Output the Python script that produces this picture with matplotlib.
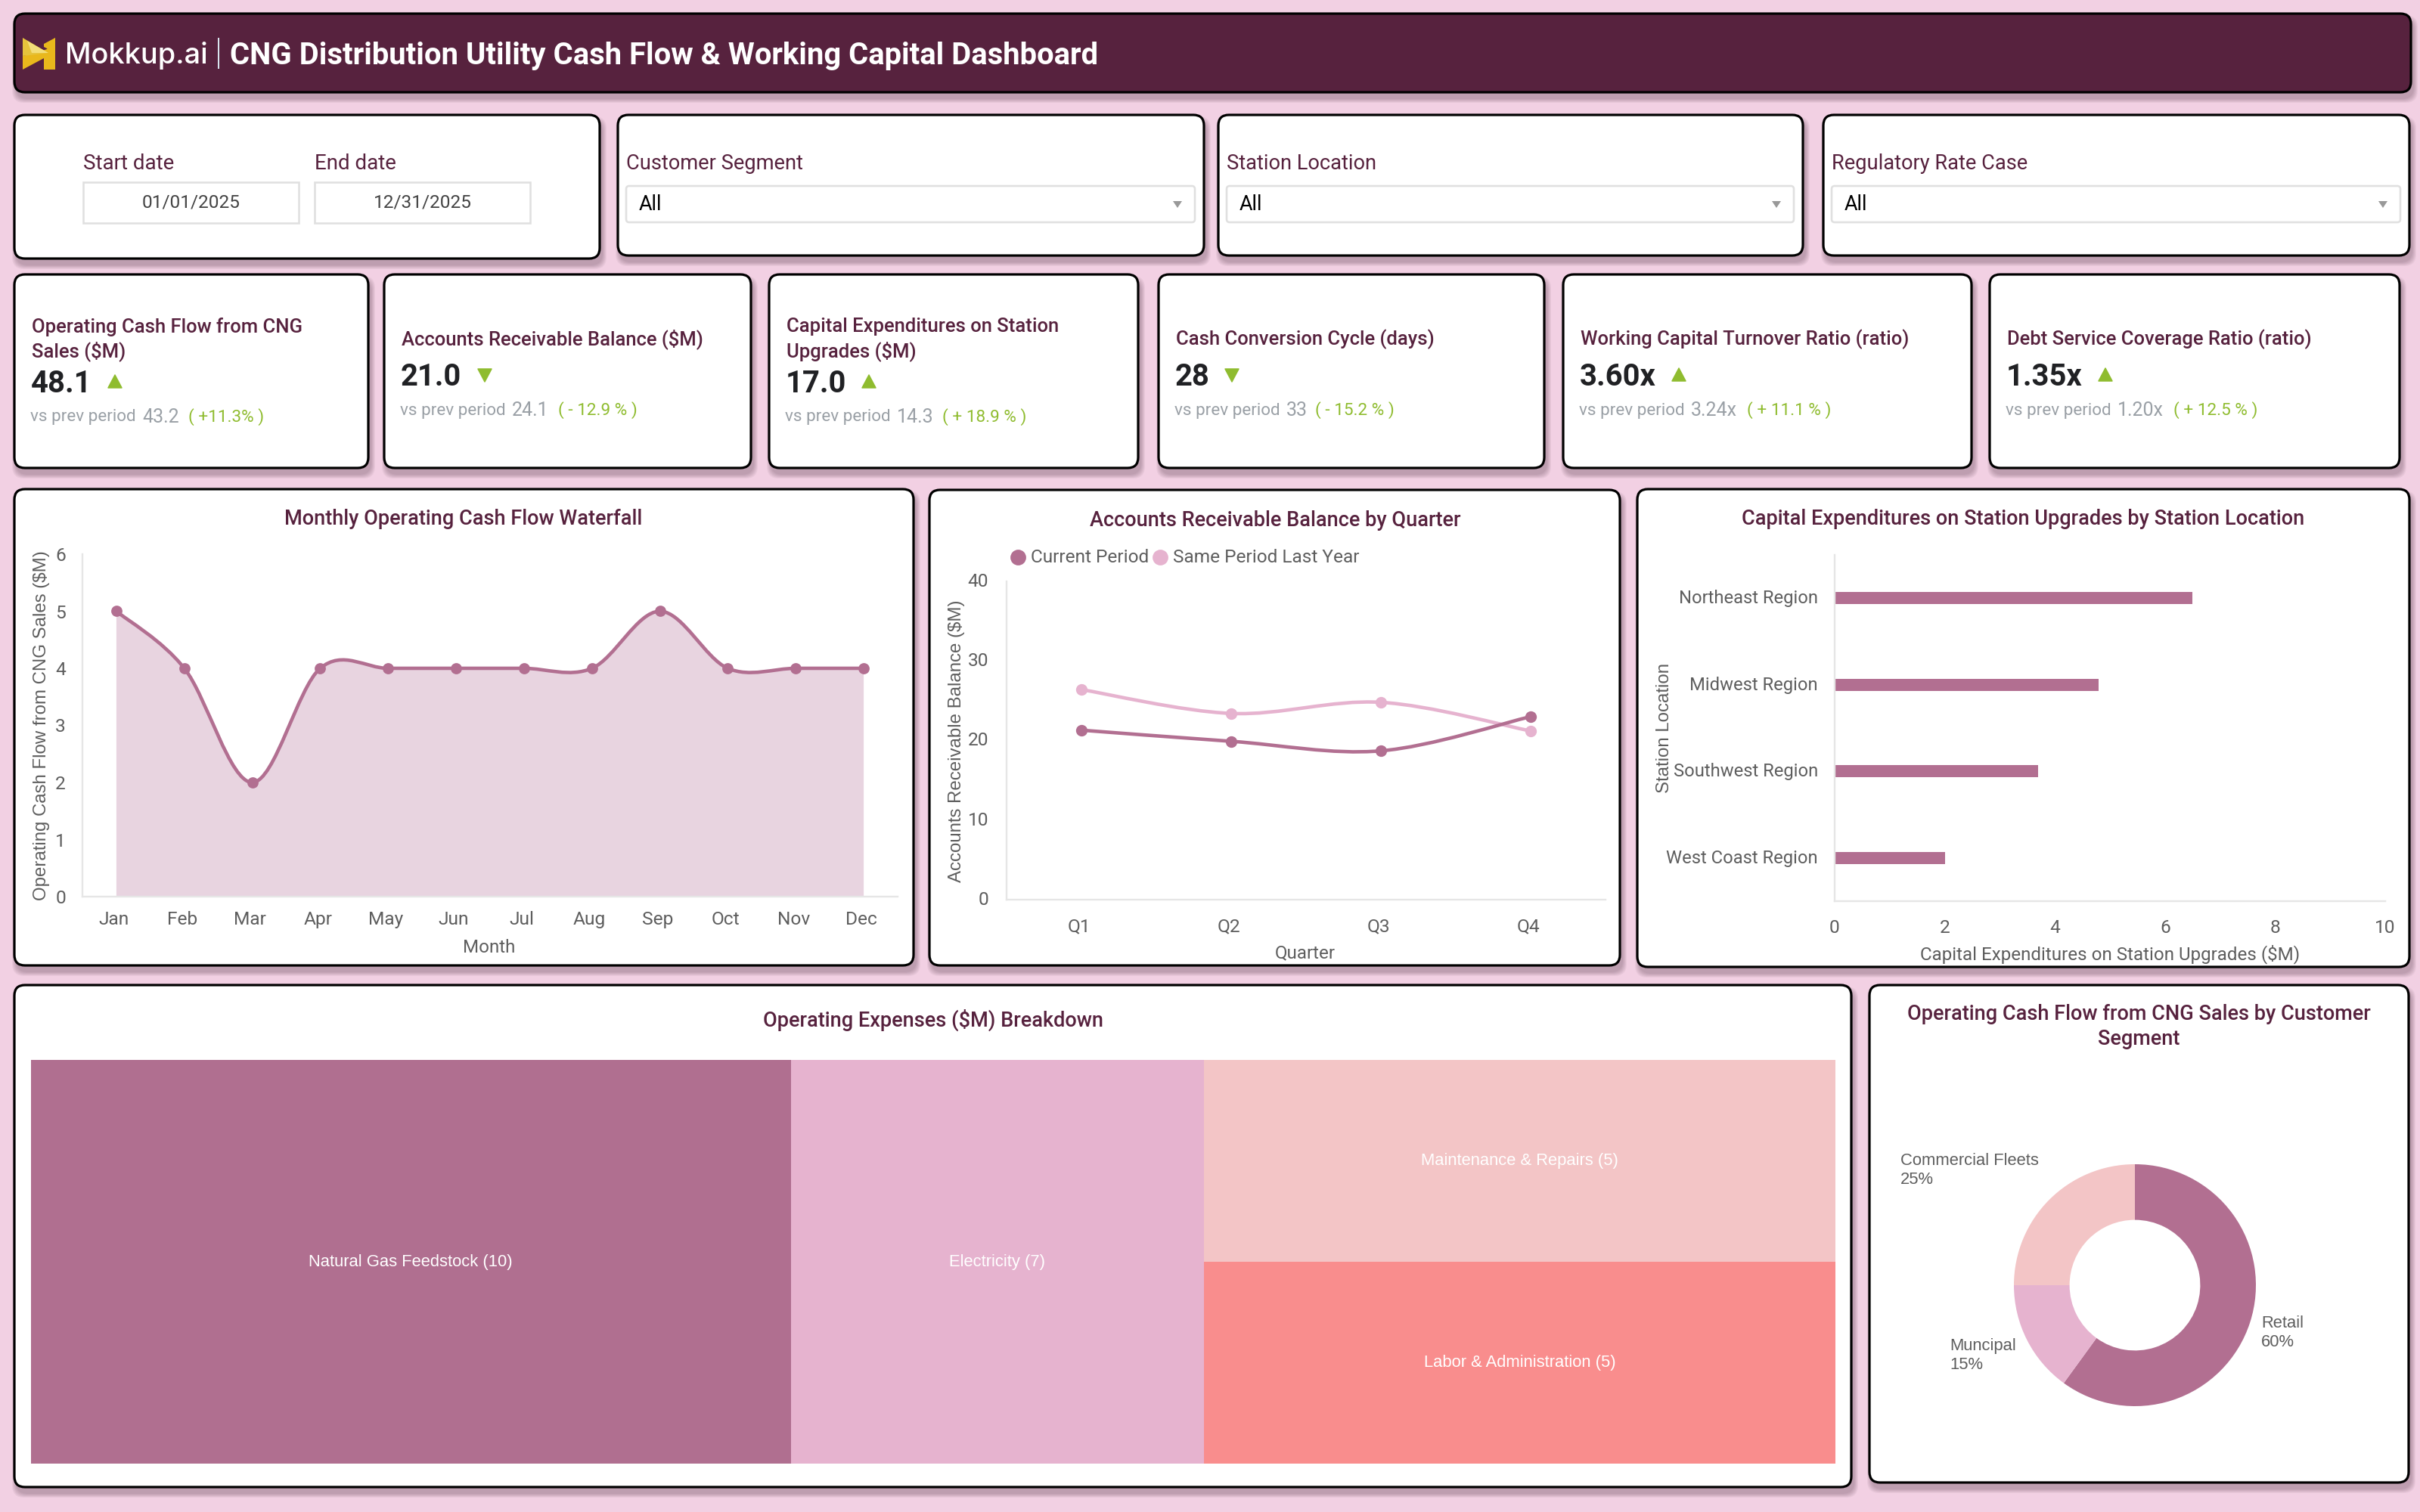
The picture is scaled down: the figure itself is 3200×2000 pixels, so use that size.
import numpy as np
import matplotlib
matplotlib.use("Agg")
import matplotlib.pyplot as plt
from matplotlib.patches import FancyBboxPatch, PathPatch, Polygon, Rectangle
from matplotlib.path import Path
from matplotlib.transforms import ScaledTranslation

# Data
months = ["Jan", "Feb", "Mar", "Apr", "May", "Jun", "Jul", "Aug", "Sep", "Oct", "Nov", "Dec"]
cash_flow = [5, 4, 2, 4, 4, 4, 4, 4, 5, 4, 4, 4]

quarters = ["Q1", "Q2", "Q3", "Q4"]
ar_current = [21.3, 19.9, 18.7, 23.0]
ar_last_year = [26.4, 23.4, 24.8, 21.2]

regions = ["Northeast Region", "Midwest Region", "Southwest Region", "West Coast Region"]
capex = [6.5, 4.8, 3.7, 2.0]

expense_names = ["Natural Gas Feedstock", "Electricity", "Maintenance & Repairs", "Labor & Administration"]
expense_labels = [10, 7, 5, 5]
expense_areas = [42.1, 22.9, 17.5, 17.5]

segments = ["Retail", "Muncipal", "Commercial Fleets"]
segment_share = [60, 15, 25]

kpi_titles = ["Operating Cash Flow from CNG\nSales ($M)", "Accounts Receivable Balance ($M)",
              "Capital Expenditures on Station\nUpgrades ($M)", "Cash Conversion Cycle (days)",
              "Working Capital Turnover Ratio (ratio)", "Debt Service Coverage Ratio (ratio)"]
kpi_values = ["48.1", "21.0", "17.0", "28", "3.60x", "1.35x"]
kpi_up = [True, False, True, False, True, True]
kpi_prev = ["43.2", "24.1", "14.3", "33", "3.24x", "1.20x"]
kpi_change = ["( +11.3% )", "( - 12.9 % )", "( + 18.9 % )", "( - 15.2 % )", "( + 11.1 % )", "( + 12.5 % )"]

# Colours
BG = "#F2D0E3"
HEADER = "#57223E"
TITLE = "#57223E"
MAUVE = "#B26F91"
LIGHT = "#E6B3CF"
PINK = "#F3C5C6"
CORAL = "#F98D8D"
FILL = "#E8D4E0"
GREY = "#5E5E5E"
AXIS = "#E6E6E6"
GREEN = "#8FBC2F"

PX = 0.36  # points per pixel at dpi 200
W, H = 3200, 2000

fig = plt.figure(figsize=(16, 10), dpi=200, facecolor=BG)
bg = fig.add_axes([0, 0, 1, 1], zorder=0)
bg.set_xlim(0, W)
bg.set_ylim(H, 0)
bg.axis("off")


def card(x0, y0, x1, y1, face="white"):
    # soft shadow below and right, then the card itself
    for i in range(6):
        grow = 2 + i * 2
        bg.add_patch(FancyBboxPatch((x0 + 3 - grow / 2, y0 + 8 - grow / 2), x1 - x0 + grow, y1 - y0 + grow,
                                    boxstyle="round,pad=0,rounding_size=16", fc="#3A2030", ec="none", alpha=0.05))
    bg.add_patch(FancyBboxPatch((x0, y0), x1 - x0, y1 - y0, boxstyle="round,pad=0,rounding_size=14",
                                fc=face, ec="black", lw=3.2 * PX))


def label(x, y, s, size, color=TITLE, ha="left", weight="normal", family="Roboto", **kw):
    return bg.text(x, y, s, fontsize=size * PX, color=color, ha=ha, va="center", fontweight=weight,
                   family=family, **kw)


def chart_axes(x0, y0, x1, y1):
    ax = fig.add_axes([x0 / W, 1 - y1 / H, (x1 - x0) / W, (y1 - y0) / H], zorder=2)
    ax.patch.set_alpha(0)
    for side in ["top", "right"]:
        ax.spines[side].set_visible(False)
    for side in ["left", "bottom"]:
        ax.spines[side].set_color(AXIS)
        ax.spines[side].set_linewidth(2.4 * PX)
    ax.tick_params(length=0)
    return ax


def shift_labels(labels, dx=0, dy=0):
    # nudge tick labels by a few pixels
    offset = ScaledTranslation(dx / 200, -dy / 200, fig.dpi_scale_trans)
    for t in labels:
        t.set_transform(t.get_transform() + offset)


def chart_title(ax, x, y, s):
    t = ax.set_title(s, y=0.5, fontsize=27.2 * PX, color=TITLE, family="Roboto", fontweight="medium",
                     linespacing=1.25)
    t.set_transform(bg.transData)
    t.set_position((x, y))
    t.set_va("center")


def axis_titles(ax, xlab, xpos, ylab, ypos):
    ax.set_xlabel(xlab, fontsize=24.2 * PX, color=GREY, family="Roboto")
    ax.xaxis.set_label_coords(xpos[0], xpos[1], transform=bg.transData)
    ax.xaxis.label.set_va("center")
    ax.set_ylabel(ylab, fontsize=24 * PX, color=GREY, family="Liberation Sans")
    ax.yaxis.set_label_coords(ypos[0], ypos[1], transform=bg.transData)
    ax.yaxis.label.set_va("center")


def smooth_path(x, y):
    # Catmull-Rom style bezier through the data points, like the dashboard's smoothed lines
    pts = np.column_stack([x, y]).astype(float)
    verts = [pts[0]]
    codes = [Path.MOVETO]
    n = len(pts)
    for i in range(n - 1):
        before = pts[max(i - 1, 0)]
        after = pts[min(i + 2, n - 1)]
        verts += [pts[i] + (pts[i + 1] - before) / 6, pts[i + 1] - (after - pts[i]) / 6, pts[i + 1]]
        codes += [Path.CURVE4] * 3
    return verts, codes


# Header
card(19, 18, 3188, 122, face=HEADER)
bg.add_patch(Polygon([(73, 50), (73, 92), (58, 92), (58, 77), (30, 92), (30, 74), (48, 70), (62, 65)],
                     fc="#E9B81C", ec="none"))
bg.add_patch(Polygon([(30, 50), (64, 70), (30, 74)], fc="#E6C33C", ec="none"))
bg.add_patch(Polygon([(73, 50), (58, 58), (58, 62), (73, 70)], fc="#E9B81C", ec="none"))
bg.add_patch(Polygon([(36, 54), (50, 62), (64, 70), (42, 70)], fc="#F3DE7A", ec="none"))
label(86, 73, "Mokkup.ai", 38, color="white", family="Inter", weight="medium")
bg.plot([289, 289], [51, 90], color="#D8E4EE", lw=2 * PX)
label(304, 74, "CNG Distribution Utility Cash Flow & Working Capital Dashboard", 40, color="white", weight="bold")

# Date filter card
card(19, 152, 793, 342)
for x0, name, val in [(110, "Start date", "01/01/2025"), (416, "End date", "12/31/2025")]:
    label(x0, 216, name, 27.8)
    bg.add_patch(Rectangle((x0, 241), 285, 54, fc="white", ec="#E0E0E0", lw=2.6 * PX))
    label(x0 + 143, 268, val, 24.4, color="#444444", ha="center")

# Dropdown filter cards
filter_names = ["Customer Segment", "Station Location", "Regulatory Rate Case"]
filter_boxes = [(817, 1592), (1611, 2384), (2411, 3186)]
for name, (x0, x1) in zip(filter_names, filter_boxes):
    card(x0, 152, x1, 338)
    label(x0 + 11, 216, name, 27.3)
    bg.add_patch(FancyBboxPatch((x0 + 11, 246), x1 - x0 - 23, 48, boxstyle="round,pad=0,rounding_size=4",
                                fc="white", ec="#E0E0E0", lw=2.6 * PX))
    label(x0 + 28, 271, "All", 27, color="black")
    bg.add_patch(Polygon([(x1 - 41, 266), (x1 - 29, 266), (x1 - 35, 275)], fc="#999999", ec="none"))

# KPI cards
kpi_boxes = [(19, 487), (508, 993), (1017, 1505), (1532, 2042), (2067, 2607), (2631, 3173)]
kpi_pct_x = [249, 738, 1246, 1739, 2310, 2874]
kpi_arrow_x = [152, 641, 1149, 1629, 2220, 2784]
for i, (x0, x1) in enumerate(kpi_boxes):
    card(x0, 363, x1, 619)
    dy = 9 if "\n" in kpi_titles[i] else 0
    tx = x0 + 23
    label(tx, 449, kpi_titles[i], 25.6, weight="medium", linespacing=1.3)
    label(tx - 1, 499 + dy, kpi_values[i], 40, color="#202124", weight="bold")
    ax_ = kpi_arrow_x[i]
    ay = 496 + dy
    if kpi_up[i]:
        tri = [(ax_ - 9, ay + 8), (ax_ + 9, ay + 8), (ax_, ay - 9)]
    else:
        tri = [(ax_ - 9, ay - 8), (ax_ + 9, ay - 8), (ax_, ay + 9)]
    bg.add_patch(Polygon(tri, fc=GREEN, ec=GREEN, lw=1.5 * PX, joinstyle="round"))
    label(tx - 2, 543 + dy, "vs prev period", 22.5, color="#9AA0A6")
    label(tx + 146, 543 + dy, kpi_prev[i], 25, color="#9AA0A6")
    label(kpi_pct_x[i], 543 + dy, kpi_change[i], 22.5, color=GREEN)

# Chart cards
card(19, 647, 1208, 1277)
card(1229, 648, 2142, 1277)
card(2165, 647, 3186, 1279)
card(19, 1303, 2448, 1967)
card(2472, 1303, 3185, 1961)

# Monthly cash flow
ax = chart_axes(109, 733, 1187, 1186)
xs = np.arange(len(months))
verts, codes = smooth_path(xs, cash_flow)
fill_verts = verts + [(xs[-1], 0), (xs[0], 0), verts[0]]
fill_codes = codes + [Path.LINETO, Path.LINETO, Path.CLOSEPOLY]
ax.add_patch(PathPatch(Path(fill_verts, fill_codes), fc=FILL, ec="none"))
ax.add_patch(PathPatch(Path(verts, codes), fc="none", ec=MAUVE, lw=4.6 * PX))
ax.plot(xs, cash_flow, ls="none", marker="o", ms=12 * PX, color=MAUVE)
ax.set_xlim(-0.5, len(months) - 0.5)
ax.set_ylim(0, 6)
ax.set_xticks(xs, months, family="Roboto", fontsize=24.5 * PX, color=GREY)
ax.set_yticks(range(7), range(7), family="Roboto", fontsize=24.5 * PX, color=GREY)
ax.tick_params(axis="x", pad=19 * PX)
ax.tick_params(axis="y", pad=22 * PX)
shift_labels(ax.get_xticklabels(), dx=-3)
axis_titles(ax, "Month", (647, 1253), "Operating Cash Flow from CNG Sales ($M)", (55, 960))
chart_title(ax, 613, 686, "Monthly Operating Cash Flow Waterfall")

# Accounts receivable
ax = chart_axes(1331, 769, 2123, 1190)
xs = np.arange(len(quarters))
for values, color, name in [(ar_last_year, LIGHT, "Same Period Last Year"), (ar_current, MAUVE, "Current Period")]:
    verts, codes = smooth_path(xs, values)
    ax.add_patch(PathPatch(Path(verts, codes), fc="none", ec=color, lw=4.6 * PX))
    ax.plot(xs, values, ls="none", marker="o", ms=12.5 * PX, color=color, label=name)
ax.set_xlim(-0.5, len(quarters) - 0.5)
ax.set_ylim(0, 40)
ax.set_xticks(xs, quarters, family="Roboto", fontsize=24.5 * PX, color=GREY)
ax.set_yticks([0, 10, 20, 30, 40], [0, 10, 20, 30, 40], family="Roboto", fontsize=24.5 * PX, color=GREY)
ax.tick_params(axis="x", pad=24 * PX)
ax.tick_params(axis="y", pad=24 * PX)
shift_labels(ax.get_xticklabels(), dx=-3)
shift_labels(ax.get_yticklabels(), dy=-2)
axis_titles(ax, "Quarter", (1726, 1261), "Accounts Receivable Balance ($M)", (1265, 980))
chart_title(ax, 1686, 688, "Accounts Receivable Balance by Quarter")
for x_dot, x_txt, color, name in [(1346, 1363, MAUVE, "Current Period"), (1534, 1551, LIGHT, "Same Period Last Year")]:
    bg.plot([x_dot], [737], marker="o", ms=18 * PX, color=color, ls="none")
    label(x_txt, 738, name, 24.4, color=GREY)

# Capex by region
ax = chart_axes(2426, 734, 3154, 1192)
ys = np.arange(len(regions))
ax.barh(ys, capex, height=0.14, color=MAUVE)
ax.set_ylim(len(regions) - 0.5, -0.5)
ax.set_xlim(0, 10)
ax.set_yticks(ys, regions, family="Roboto", fontsize=23.8 * PX, color=GREY)
ax.set_xticks(range(0, 11, 2), range(0, 11, 2), family="Roboto", fontsize=24.5 * PX, color=GREY)
ax.tick_params(axis="x", pad=24 * PX)
ax.tick_params(axis="y", pad=22 * PX)
shift_labels(ax.get_yticklabels(), dy=-2)
axis_titles(ax, "Capital Expenditures on Station Upgrades ($M)", (2790, 1262), "Station Location", (2201, 963))
chart_title(ax, 2675, 686, "Capital Expenditures on Station Upgrades by Station Location")

# Operating expenses treemap
ax = fig.add_axes([41 / W, 1 - 1936 / H, (2427 - 41) / W, (1936 - 1402) / H], zorder=2)
ax.axis("off")
last_col = expense_areas[2] + expense_areas[3]
lefts = [0, expense_areas[0], expense_areas[0] + expense_areas[1], expense_areas[0] + expense_areas[1]]
widths = [expense_areas[0], expense_areas[1], last_col, last_col]
bottoms = [0, 0, expense_areas[3] / last_col, 0]
heights = [1, 1, expense_areas[2] / last_col, expense_areas[3] / last_col]
tree_colors = ["#B06F90", LIGHT, PINK, CORAL]
ax.bar(lefts, heights, width=widths, bottom=bottoms, align="edge", color=tree_colors)
for i, name in enumerate(expense_names):
    ax.text(lefts[i] + widths[i] / 2, bottoms[i] + heights[i] / 2, f"{name} ({expense_labels[i]})", color="white",
            fontsize=22 * PX, family="Liberation Sans", ha="center", va="center")
ax.set_xlim(0, sum(expense_areas))
ax.set_ylim(0, 1)
label(1234, 1349, "Operating Expenses ($M) Breakdown", 27.2, ha="center", weight="medium")

# Customer segment donut
cx, cy, r = 2823, 1700, 160
ax = fig.add_axes([(cx - r) / W, 1 - (cy + r) / H, 2 * r / W, 2 * r / H], zorder=2)
ax.pie(segment_share, startangle=90, counterclock=False, radius=1, colors=[MAUVE, LIGHT, PINK],
       wedgeprops={"width": 0.46})
ax.set_xlim(-1, 1)
ax.set_ylim(-1, 1)
chart_title(ax, 2828, 1358, "Operating Cash Flow from CNG Sales by Customer\nSegment")
donut_label_pos = [(2990, 1763), (2578, 1793), (2513, 1548)]
for name, share, (lx, ly) in zip(segments, segment_share, donut_label_pos):
    label(lx, ly, f"{name}\n{share}%", 22, color=GREY, family="Liberation Sans", linespacing=1.2)

fig.savefig("out.png", dpi=200, facecolor=BG)
